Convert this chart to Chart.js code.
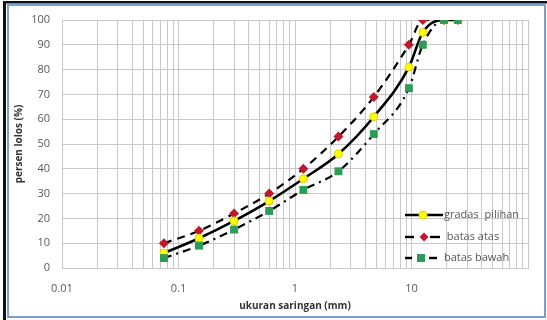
<!DOCTYPE html>
<html lang="id">
<head>
<meta charset="UTF-8">
<title>Gradasi</title>
<script src="https://cdn.jsdelivr.net/npm/chart.js@4.4.0/dist/chart.umd.min.js"></script>
<style>
    body { margin: 0; background: #fff; }
    #wrap { width: 547px; height: 320px; position: relative; }
</style>
</head>
<body>
<div id="wrap"><canvas id="grafik" width="547" height="320"></canvas></div>
<script>
// ukuran saringan (mm) dan persen lolos
const ukuranSaringan = [0.075, 0.15, 0.3, 0.6, 1.18, 2.36, 4.75, 9.5, 12.5, 19, 25];
const gradasiPilihan = [6, 12, 19, 27, 36, 46, 61, 81, 95, 100, 100];
const batasAtas      = [10, 15, 22, 30, 40, 53, 69, 90, 100, 100, 100];
const batasBawah     = [4, 9, 15.5, 23, 31.5, 39, 54, 72.5, 90, 100, 100];

const xTickValues = [0.01, 0.1, 1, 10];
const xTickLabels = ['0.01', '0.1', '1', '10'];
const legendLabels = ['gradas  pilihan', ' batas atas', 'batas bawah'];

function toPoints(ys) {
    return ukuranSaringan.map((x, i) => ({ x: x, y: ys[i] }));
}

// garis grid log: 1..9 tiap dekade
const gridValues = [];
for (let d = -2; d <= 1; d++) {
    for (let m = 1; m <= 9; m++) gridValues.push(+(m * Math.pow(10, d)).toPrecision(3));
}
gridValues.push(100);

const warnaTeks = '#595959';
const fontTick = { family: 'Open Sans', size: 11 };

const frame = {
    id: 'frame',
    beforeDraw(chart) {
        const c = chart.ctx;
        c.save();
        c.fillStyle = '#fff';
        c.fillRect(0, 0, chart.width, chart.height);
        c.fillStyle = '#111';
        c.fillRect(3, 1, chart.width - 3, 2.5);
        c.fillRect(3, 1, 3, chart.height - 1);
        c.strokeStyle = '#7a9fd2';
        c.lineWidth = 2;
        c.strokeRect(8, 5, 537, 312);
        c.restore();
    }
};

function marker(c, style, x, y) {
    if (style === 0) {
        c.beginPath();
        c.arc(x, y, 4, 0, Math.PI * 2);
        c.fillStyle = '#ffff00';
        c.fill();
        c.strokeStyle = '#e0d200';
        c.lineWidth = 1;
        c.stroke();
    } else if (style === 1) {
        c.beginPath();
        c.moveTo(x, y - 4.5); c.lineTo(x + 4.5, y); c.lineTo(x, y + 4.5); c.lineTo(x - 4.5, y);
        c.closePath();
        c.fillStyle = '#c0172a';
        c.fill();
    } else {
        c.fillStyle = '#2e9c57';
        c.fillRect(x - 4, y - 4, 8, 8);
    }
}

// contoh garis legenda: [x0, x1] tiap potongan
const legendSegs = [
    [[405, 443]],
    [[405, 414], [430, 440]],
    [[405, 412], [429, 437]]
];
const legendMarkX = [423, 424, 421];

const legendaKustom = {
    id: 'legendaKustom',
    afterDraw(chart) {
        const c = chart.ctx;
        const rows = [215, 237, 258];
        c.save();
        rows.forEach((y, i) => {
            c.strokeStyle = '#000';
            c.lineWidth = i === 0 ? 2.5 : 2.4;
            legendSegs[i].forEach(s => {
                c.beginPath();
                c.moveTo(s[0], y);
                c.lineTo(s[1], y);
                c.stroke();
            });
            marker(c, i, legendMarkX[i], y);
            c.fillStyle = warnaTeks;
            c.font = '11px "Open Sans"';
            c.textBaseline = 'middle';
            c.fillText(legendLabels[i], 444, y);
        });
        c.restore();
    }
};

new Chart(document.getElementById('grafik'), {
    type: 'line',
    data: {
        datasets: [
            {
                label: 'batas bawah',
                data: toPoints(batasBawah),
                borderColor: '#000',
                borderWidth: 2.2,
                borderDash: [8, 5, 2, 5],
                cubicInterpolationMode: 'monotone',
                pointStyle: 'rect',
                pointRadius: 5.6,
                pointBackgroundColor: '#2e9c57',
                pointBorderColor: '#2e9c57',
                pointBorderWidth: 0,
                order: 0
            },
            {
                label: 'gradasi pilihan',
                data: toPoints(gradasiPilihan),
                borderColor: '#000',
                borderWidth: 2.6,
                cubicInterpolationMode: 'monotone',
                pointStyle: 'circle',
                pointRadius: 4,
                pointBackgroundColor: '#ffff00',
                pointBorderColor: '#e0d200',
                pointBorderWidth: 1,
                order: 1
            },
            {
                label: 'batas atas',
                data: toPoints(batasAtas),
                borderColor: '#000',
                borderWidth: 2.2,
                borderDash: [8, 6],
                cubicInterpolationMode: 'monotone',
                pointStyle: 'rectRot',
                pointRadius: 5,
                pointBackgroundColor: '#c0172a',
                pointBorderColor: '#c0172a',
                pointBorderWidth: 0,
                order: 2
            }
        ]
    },
    options: {
        responsive: false,
        animation: false,
        devicePixelRatio: 1,
        layout: { padding: { top: 20, right: 19, left: 0, bottom: 0 } },
        plugins: { legend: { display: false }, tooltip: { enabled: false } },
        scales: {
            x: {
                type: 'logarithmic',
                min: 0.01,
                max: 100,
                afterBuildTicks(scale) {
                    scale.ticks = gridValues.map(v => ({ value: v }));
                },
                afterFit(scale) { scale.height = 52; },
                grid: { color: '#c8c8c8', lineWidth: 1, drawTicks: false },
                border: { color: '#c8c8c8' },
                ticks: {
                    autoSkip: false,
                    maxRotation: 0,
                    padding: 14,
                    color: warnaTeks,
                    font: fontTick,
                    callback(value) {
                        const k = xTickValues.findIndex(v => Math.abs(v - value) < v * 1e-6);
                        return k >= 0 ? xTickLabels[k] : '';
                    }
                },
                title: {
                    display: true,
                    text: 'ukuran saringan (mm)',
                    color: '#333',
                    font: { family: 'Open Sans', size: 10, weight: 'bold' },
                    padding: { top: 0, bottom: 8 }
                }
            },
            y: {
                min: 0,
                max: 100,
                afterFit(scale) { scale.width = 62; },
                grid: { color: '#c8c8c8', lineWidth: 1, drawTicks: false },
                border: { color: '#c8c8c8' },
                ticks: { stepSize: 10, padding: 12, color: warnaTeks, font: fontTick },
                title: {
                    display: true,
                    text: 'persen lolos (%)',
                    color: '#333',
                    font: { family: 'Open Sans', size: 10, weight: 'bold' },
                    padding: { top: 13, bottom: 0 }
                }
            }
        }
    },
    plugins: [frame, legendaKustom]
});
</script>
</body>
</html>
